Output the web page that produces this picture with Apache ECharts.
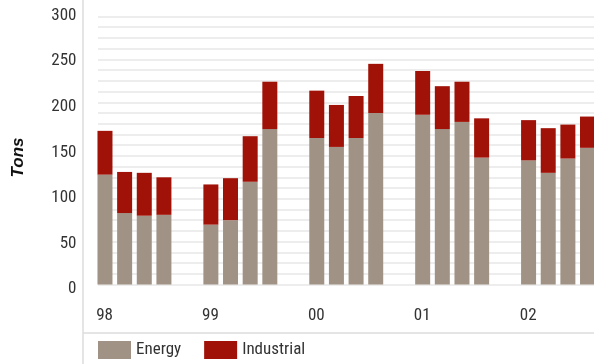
<!DOCTYPE html>
<html>
<head>
<meta charset="utf-8">
<script src="https://cdn.jsdelivr.net/npm/echarts@6/dist/echarts.min.js"></script>
<style>
  html, body { margin: 0; padding: 0; background: #fff; }
  #chart { width: 594px; height: 364px; }
</style>
</head>
<body>
<div id="chart"></div>
<script>
// Emissions by quarter, 1998-2002 (tons)
var years = ['98', '99', '00', '01', '02'];

var energyQ1 = [123, 67, 164, 190, 139];
var energyQ2 = [80, 72, 154, 174, 125];
var energyQ3 = [77, 115, 164, 182, 141];
var energyQ4 = [78, 174, 192, 142, 153];

var industrialQ1 = [49, 45, 53, 49, 45];
var industrialQ2 = [46, 47, 47, 48, 50];
var industrialQ3 = [48, 51, 47, 45, 38];
var industrialQ4 = [42, 53, 55, 44, 35];

var yTicks = [0, 50, 100, 150, 200, 250, 300];

var FONT = "'Liberation Sans Narrow', 'Roboto Condensed', 'Liberation Sans', sans-serif";
var ENERGY = '#a09386';
var INDUSTRIAL = '#a01207';

var quarters = [
  { stack: 'q1', energy: energyQ1, industrial: industrialQ1 },
  { stack: 'q2', energy: energyQ2, industrial: industrialQ2 },
  { stack: 'q3', energy: energyQ3, industrial: industrialQ3 },
  { stack: 'q4', energy: energyQ4, industrial: industrialQ4 }
];

var series = [];
quarters.forEach(function (q) {
  series.push({
    name: 'Energy', type: 'bar', stack: q.stack, data: q.energy,
    xAxisIndex: 0, yAxisIndex: 0,
    barWidth: 15, barGap: '31%',
    itemStyle: { color: ENERGY }, z: 3
  });
  series.push({
    name: 'Industrial', type: 'bar', stack: q.stack, data: q.industrial,
    xAxisIndex: 0, yAxisIndex: 0,
    barWidth: 15, barGap: '31%',
    itemStyle: { color: INDUSTRIAL }, z: 3
  });
});

var chart = echarts.init(document.getElementById('chart'), null, { renderer: 'canvas' });

chart.setOption({
  animation: false,
  backgroundColor: '#fff',
  textStyle: { fontFamily: FONT },
  grid: [
    // bars (the last quarter runs to the right edge)
    { left: 81.5, width: 529.5, top: 16.5, bottom: 79.5, containLabel: false, outerBoundsMode: 'none' },
    // horizontal rules
    { left: 98, right: 0, top: 16.5, bottom: 79.5, containLabel: false, outerBoundsMode: 'none' },
    // tick labels column
    { left: 81.5, width: 10, top: 15.5, bottom: 75, containLabel: false, outerBoundsMode: 'none' }
  ],
  xAxis: [
    {
      type: 'category', gridIndex: 0, data: years,
      axisLine: { show: false }, axisTick: { show: false },
      axisLabel: {
        color: '#333', fontSize: 17, fontFamily: FONT,
        align: 'right', padding: [0, 21.5, 0, 0], margin: 23
      }
    },
    { type: 'value', gridIndex: 1, show: false, min: 0, max: 1 },
    { type: 'value', gridIndex: 2, show: false, min: 0, max: 1 }
  ],
  yAxis: [
    {
      type: 'value', gridIndex: 0, min: yTicks[0], max: yTicks[yTicks.length - 1], interval: 50,
      axisLine: { show: false }, axisTick: { show: false }, splitLine: { show: false },
      axisLabel: { show: false },
      name: 'Tons', nameLocation: 'middle', nameGap: 55, nameRotate: 90,
      nameTextStyle: {
        color: '#111', fontSize: 17, fontWeight: 'bold', fontStyle: 'italic',
        fontFamily: "'Liberation Sans', Arial, sans-serif", padding: [0, 14, 0, 0]
      }
    },
    {
      type: 'value', gridIndex: 1, min: 0, max: 300, interval: 12,
      axisLine: { show: false }, axisTick: { show: false }, axisLabel: { show: false },
      splitLine: { show: true, lineStyle: { color: '#ededed', width: 2 } }
    },
    {
      type: 'value', gridIndex: 2, min: yTicks[0], max: yTicks[yTicks.length - 1], interval: 50,
      axisLine: { show: false }, axisTick: { show: false }, splitLine: { show: false },
      axisLabel: { color: '#333', fontSize: 17, fontFamily: FONT, margin: 5 }
    }
  ],
  legend: {
    data: ['Energy', 'Industrial'],
    left: 98, top: 341,
    icon: 'rect', itemWidth: 33, itemHeight: 18, itemGap: 23,
    textStyle: { color: '#333', fontSize: 17, fontFamily: FONT },
    padding: 0
  },
  graphic: [
    {
      type: 'line', silent: true,
      shape: { x1: 83, y1: 0, x2: 83, y2: 364 },
      style: { stroke: '#dcdcdc', lineWidth: 1.5 }
    },
    {
      type: 'line', silent: true,
      shape: { x1: 83, y1: 333, x2: 594, y2: 333 },
      style: { stroke: '#dcdcdc', lineWidth: 1.5 }
    }
  ],
  series: series
});
</script>
</body>
</html>
